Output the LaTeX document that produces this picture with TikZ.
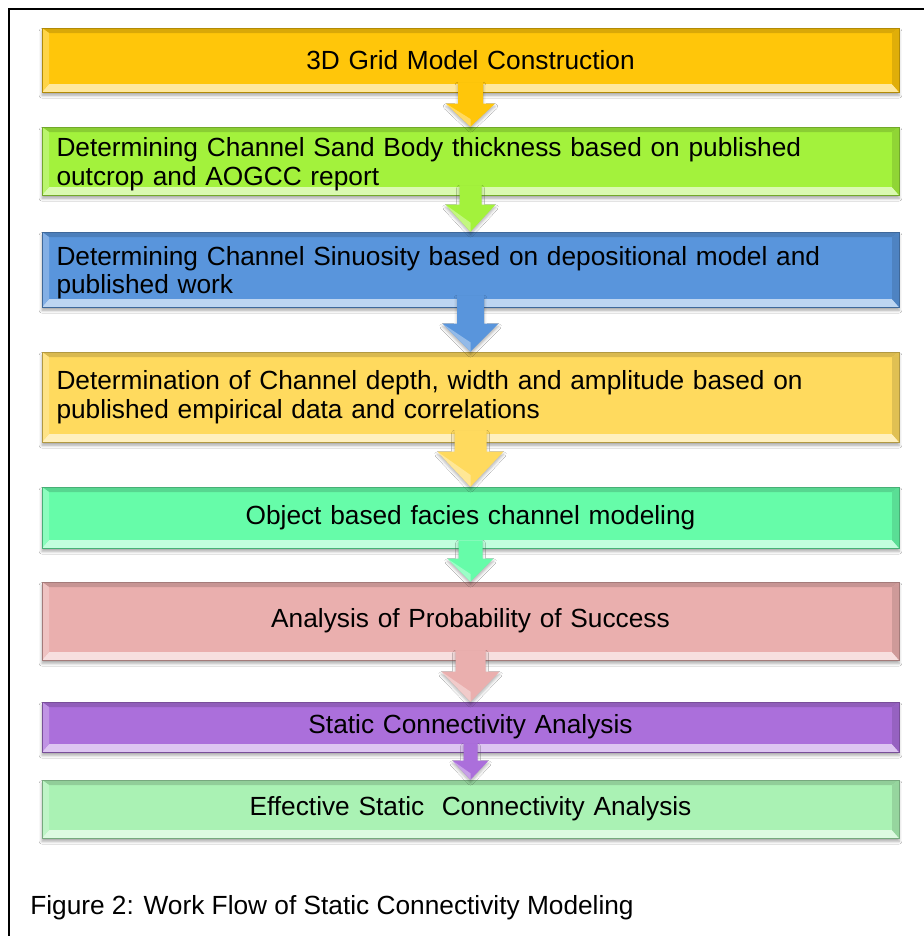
\documentclass[tikz,border=0pt]{standalone}
\usepackage{fontspec}
\setmainfont{Liberation Sans}
\usetikzlibrary{calc,shadows.blur}

\definecolor{gridgold}{HTML}{FFC60A}
\definecolor{sandlime}{HTML}{A3F23C}
\definecolor{sinublue}{HTML}{5995DC}
\definecolor{depthgold}{HTML}{FFDA5E}
\definecolor{faciesmint}{HTML}{66FCA9}
\definecolor{successpink}{HTML}{EAAFAE}
\definecolor{staticpurple}{HTML}{AB6FDB}
\definecolor{effectgreen}{HTML}{AAF2B4}

\tikzset{
  stage/.style={rectangle, fill=#1, draw=#1!70!black, line width=0.5pt,
    minimum width=642.75pt, text width=621pt, inner xsep=10.5pt, inner ysep=0pt,
    font=\fontsize{19.7pt}{21.5pt}\selectfont,
    blur shadow={shadow xshift=0pt, shadow yshift=-2.5pt, shadow opacity=35},
    path picture={
      \coordinate (nw) at (path picture bounding box.north west);
      \coordinate (ne) at (path picture bounding box.north east);
      \coordinate (sw) at (path picture bounding box.south west);
      \coordinate (se) at (path picture bounding box.south east);
      \fill[#1!85!black] (nw) -- (ne) -- ($(ne)+(-7,5)$) -- ($(nw)+(7,5)$) -- cycle;
      \fill[#1!40!white] (sw) -- (se) -- ($(se)+(-7,-8)$) -- ($(sw)+(7,-8)$) -- cycle;
      \fill[#1!75!white] (nw) -- ($(nw)+(7,5)$) -- ($(sw)+(7,-8)$) -- (sw) -- cycle;
      \fill[#1!88!black] (ne) -- ($(ne)+(-7,5)$) -- ($(se)+(-7,-8)$) -- (se) -- cycle;
    }}
}

% block arrow from one stage to the next: from, to, colour, shaft/2, head/2, head length, overlap
\newcommand\flowarrow[7]{%
  \fill[#3, blur shadow={shadow xshift=0pt, shadow yshift=-2pt, shadow opacity=30}]
    ($(#1.south)+(-#4,-#7)$) -- ($(#2.north)+(-#4,-#6)$) -- ($(#2.north)+(-#5,-#6)$)
    -- (#2.north) -- ($(#2.north)+(#5,-#6)$) -- ($(#2.north)+(#4,-#6)$)
    -- ($(#1.south)+(#4,-#7)$) -- cycle;
  \fill[#3!65!white] ($(#2.north)+(-#5,-#6)$) -- (#2.north) -- ($(#2.north)+(0,-#6/3)$) -- cycle;
}

\begin{document}
\begin{tikzpicture}[x=0.75pt,y=-0.75pt]
\path[use as bounding box, clip] (0,0) rectangle (924,936);
\fill[white] (0,0) rectangle (924,936);
\draw[line width=1.5pt] (9,950) -- (9,9) -- (940,9);

\node[stage=gridgold, align=center, minimum height=48pt] (grid) at (470.5,60) {3D Grid Model Construction};
\node[stage=sandlime, align=left, minimum height=51pt, text depth=21pt] (sand) at (470.5,161) {Determining Channel Sand Body thickness based on published\\outcrop and AOGCC report};
\node[stage=sinublue, align=left, minimum height=56.25pt, text depth=21pt] (sinu) at (470.5,269.5) {Determining Channel Sinuosity based on depositional model and\\published work};
\node[stage=depthgold, align=left, minimum height=67.5pt] (depth) at (470.5,397) {Determination of Channel depth, width and amplitude based on\\published empirical data and correlations};
\node[stage=faciesmint, align=center, minimum height=45.75pt] (facies) at (470.5,517.5) {Object based facies channel modeling};
\node[stage=successpink, align=center, minimum height=58.5pt] (success) at (470.5,621) {Analysis of Probability of Success};
\node[stage=staticpurple, align=center, minimum height=37.5pt] (static) at (470.5,727) {Static Connectivity Analysis};
\node[stage=effectgreen, align=center, minimum height=43.5pt] (effect) at (470.5,809) {Effective Static\ \ Connectivity Analysis};

\flowarrow{grid}{sand}{gridgold}{12.5}{24.5}{23}{10}
\flowarrow{sand}{sinu}{sandlime}{11}{25}{27}{10}
\flowarrow{sinu}{depth}{sinublue}{13.5}{28}{28}{12}
\flowarrow{depth}{facies}{depthgold}{16}{33}{35}{12}
\flowarrow{facies}{success}{faciesmint}{12}{23}{23}{8}
\flowarrow{success}{static}{successpink}{15}{29}{30}{10}
\flowarrow{static}{effect}{staticpurple}{7}{18}{19}{9}

\node[anchor=base west, inner sep=0pt, font=\fontsize{19.7pt}{21.5pt}\selectfont] (caption) at (30,914) {Figure 2: Work Flow of Static Connectivity Modeling};
\end{tikzpicture}
\end{document}
